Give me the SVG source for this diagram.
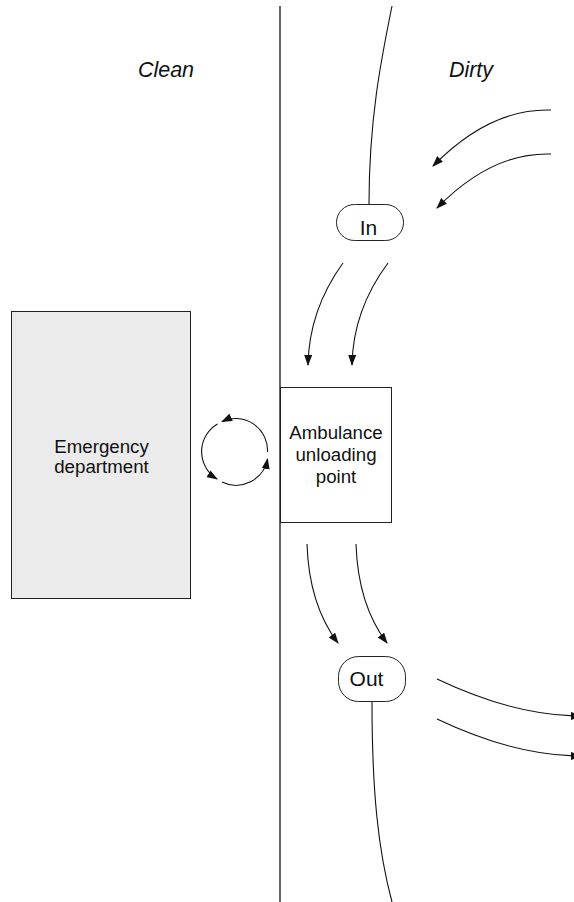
<svg xmlns="http://www.w3.org/2000/svg" width="574" height="902" viewBox="0 0 574 902">
  <style>
    .label { font-family: "Liberation Sans", Arial, sans-serif; font-size: 18.7px; fill: #111; text-anchor: middle; }
    .zone { font-style: italic; font-size: 21.5px; }
    .gate { font-size: 21px; }
    .box { stroke: #222; stroke-width: 1; }
    .flow { fill: none; stroke: #111; stroke-width: 1.1; }
    .arrow { marker-end: url(#head); }
  </style>
  <defs>
    <marker id="head" markerWidth="11" markerHeight="8" refX="10" refY="4" orient="auto" markerUnits="userSpaceOnUse">
      <path d="M0,0 L11,4 L0,8 Z" fill="#111"/>
    </marker>
  </defs>
  <rect width="574" height="902" fill="#fff"/>

  <!-- dividing wall between the zones -->
  <line x1="280" y1="6" x2="280" y2="902" stroke="#111" stroke-width="1.3"/>

  <text class="label zone" x="166" y="77">Clean</text>
  <text class="label zone" x="471" y="77">Dirty</text>

  <g id="emergency-department">
    <rect class="box" x="11.5" y="311.5" width="179" height="287" fill="#ebebeb"/>
    <text class="label" x="101.5" y="452.5">Emergency</text>
    <text class="label" x="101.5" y="473">department</text>
  </g>

  <g id="ambulance-unloading-point">
    <rect class="box" x="280.5" y="387.5" width="111" height="135" fill="#fff"/>
    <text class="label" x="336" y="438.5">Ambulance</text>
    <text class="label" x="336" y="460.5">unloading</text>
    <text class="label" x="336" y="482.5">point</text>
  </g>

  <g id="in">
    <rect class="box" x="336.5" y="204.5" width="67" height="36" rx="18" ry="18" fill="#fff"/>
    <text class="label gate" x="368.5" y="234.5">In</text>
  </g>

  <g id="out">
    <rect class="box" x="338.5" y="656.5" width="67" height="45" rx="20" ry="20" fill="#fff"/>
    <text class="label gate" x="366.5" y="686">Out</text>
  </g>

  <g id="connectors">
    <!-- approach road into In -->
    <path class="flow" d="M392,6 C381,60 369,120 369,204"/>
    <!-- arrivals from the right -->
    <path class="flow arrow" d="M551,110 Q490,108 433,166"/>
    <path class="flow arrow" d="M551,154 Q492,152 437,208"/>
    <!-- In to unloading point -->
    <path class="flow arrow" d="M343,263 Q309,310 308,365"/>
    <path class="flow arrow" d="M388,263 Q353,310 352,365"/>
    <!-- exchange between department and unloading point -->
    <path class="flow arrow" d="M267.5,452 A32,32 0 0 0 222,421.5"/>
    <path class="flow arrow" d="M217.5,424 A32,32 0 0 0 217,479"/>
    <path class="flow arrow" d="M222,482 A32,32 0 0 0 267.5,459"/>
    <!-- unloading point to Out -->
    <path class="flow arrow" d="M307,544 Q309,605 338,643"/>
    <path class="flow arrow" d="M356,544 Q358,605 387,643"/>
    <!-- departures to the right -->
    <path class="flow arrow" d="M437,679 Q515,716 581,716"/>
    <path class="flow arrow" d="M437,719 Q515,756 581,756"/>
    <!-- exit road from Out -->
    <path class="flow" d="M372,702 C372,790 378,850 392,902"/>
  </g>
</svg>
